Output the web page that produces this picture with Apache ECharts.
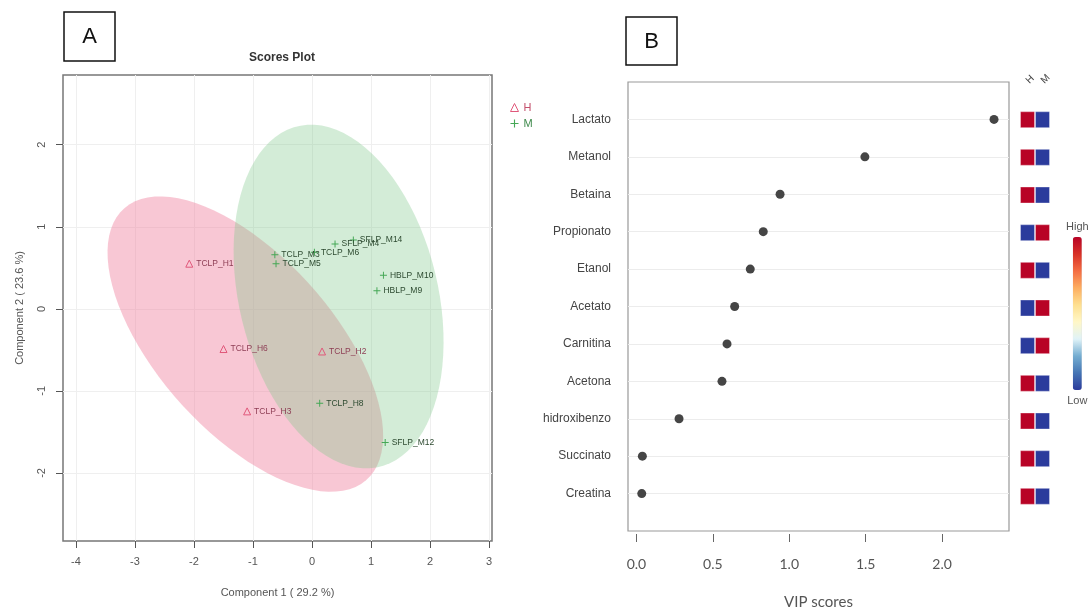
<!DOCTYPE html>
<html>
<head>
<meta charset="utf-8">
<script src="https://cdn.jsdelivr.net/npm/echarts@6/dist/echarts.min.js"></script>
<style>
  html, body { margin: 0; background: #fff; }
  #chart { width: 1088px; height: 615px; }
</style>
</head>
<body>
<div id="chart"></div>
<script>
// === A: Scores Plot (PLS-DA) ===
const H_NAMES = ['TCLP_H1', 'TCLP_H6', 'TCLP_H2', 'TCLP_H3'];
const H_X = [-2.08, -1.50, 0.17, -1.10];
const H_Y = [0.55, -0.49, -0.52, -1.25];

const M_NAMES = ['TCLP_M3', 'TCLP_M5', 'TCLP_M6', 'SFLP_M4', 'SFLP_M14', 'HBLP_M10', 'HBLP_M9', 'TCLP_H8', 'SFLP_M12'];
const M_X = [-0.63, -0.61, 0.04, 0.39, 0.70, 1.21, 1.10, 0.13, 1.24];
const M_Y = [0.66, 0.55, 0.69, 0.79, 0.84, 0.41, 0.22, -1.15, -1.63];

// zonas de confianza (centro, semiejes, angulo en unidades de datos)
const ELL_CX = [-1.13, 0.45];
const ELL_CY = [-0.43, 0.15];
const ELL_A = [2.68, 2.22];
const ELL_B = [1.23, 1.62];
const ELL_ANGLE = [-33.5, -61];

const X_TICKS_A = [-4, -3, -2, -1, 0, 1, 2, 3];
const Y_TICKS_A = [-2, -1, 0, 1, 2];

// === B: VIP scores ===
const METABOLITES = ['Lactato', 'Metanol', 'Betaina', 'Propionato', 'Etanol', 'Acetato',
  'Carnitina', 'Acetona', 'hidroxibenzo', 'Succinato', 'Creatina'];
const VIP = [2.34, 1.495, 0.94, 0.83, 0.745, 0.643, 0.593, 0.56, 0.279, 0.039, 0.035];
const GROUPS = ['H', 'M'];
const HIGH_H = [1, 1, 1, 0, 1, 0, 0, 1, 1, 1, 1];
const HIGH_M = [0, 0, 0, 1, 0, 1, 1, 0, 0, 0, 0];
const VIP_TICKS = [0, 0.5, 1, 1.5, 2];

// === Estilos ===
const pinkFill = 'rgba(240,130,160,0.45)', greenFill = 'rgba(130,200,140,0.35)';
const hCol = '#e0587a', mCol = '#45a856';
const PLUS = 'path://M0.43,0H0.57V0.43H1V0.57H0.57V1H0.43V0.57H0V0.43H0.43Z';
const sans = "'Liberation Sans', Arial, sans-serif";

const rows = METABOLITES.map((_, i) => i + 1);

function ellipseItem(params, api){
  const cx = api.value(0), cy = api.value(1), a = api.value(2), b = api.value(3);
  const th = api.value(4) * Math.PI / 180;
  const pts = [];
  for(let k = 0; k <= 90; k++){
    const t = 2 * Math.PI * k / 90;
    const dx = a * Math.cos(t) * Math.cos(th) - b * Math.sin(t) * Math.sin(th);
    const dy = a * Math.cos(t) * Math.sin(th) + b * Math.sin(t) * Math.cos(th);
    pts.push(api.coord([cx + dx, cy + dy]));
  }
  return { type:'polygon', shape:{ points: pts }, style:{ fill: api.value(5) === 0 ? pinkFill : greenFill } };
}

const option = {
  animation: false,
  textStyle: { fontFamily: sans },
  title: { text: 'Scores Plot', left: 277, textAlign: 'center', top: 47,
    textStyle: { fontSize: 12, fontWeight: 'bold', color: '#333' } },
  legend: {
    data: [
      { name:'H', icon: 'triangle', itemStyle:{ color: 'rgba(255,255,255,0)', borderColor: hCol, borderWidth: 1 },
        textStyle:{ color: '#c4506c' } },
      { name:'M', icon: PLUS, itemStyle:{ color: mCol }, textStyle:{ color: '#3f8a4c' } }
    ],
    orient: 'vertical', left: 505, top: 97, itemWidth: 8, itemHeight: 8, itemGap: 5,
    textStyle: { fontSize: 11 }
  },
  grid: [
    { left: 63, top: 75, width: 429, height: 466, show: true, borderColor: '#777', borderWidth: 1.5 },
    { left: 628, top: 82, width: 381, height: 452, show: true, borderColor: '#999', borderWidth: 1.2 },
    { left: 1020, top: 82, width: 30, height: 452 }
  ],
  xAxis: [
    { gridIndex: 0, type: 'value', min: -4.22, max: 3.05,
      axisLine: { show: false, onZero: false },
      axisTick: { customValues: X_TICKS_A, length: 7, lineStyle: { color: '#555' } },
      axisLabel: { customValues: X_TICKS_A, margin: 15, fontSize: 11, color: '#555' },
      splitLine: { lineStyle: { color: '#efefef' } },
      name: 'Component 1 ( 29.2 %)', nameLocation: 'middle', nameGap: 46,
      nameTextStyle: { fontSize: 11, color: '#555' } },
    { gridIndex: 1, type: 'value', min: -0.055, max: 2.438, offset: 3,
      axisLine: { show: false, onZero: false },
      axisTick: { customValues: VIP_TICKS, length: 8, lineStyle: { color: '#666' } },
      axisLabel: { customValues: VIP_TICKS, margin: 23, fontSize: 14, color: '#555', fontFamily: 'Lato',
        formatter: v => v.toFixed(1) },
      splitLine: { show: false },
      name: 'VIP scores', nameLocation: 'middle', nameGap: 61,
      nameTextStyle: { fontSize: 15, color: '#555', fontFamily: 'Lato' } },
    { gridIndex: 2, type: 'category', data: GROUPS, position: 'top',
      axisLine: { show: false }, axisTick: { show: false },
      axisLabel: { interval: 0, rotate: 45, margin: 0, fontSize: 10, color: '#444' } }
  ],
  yAxis: [
    { gridIndex: 0, type: 'value', min: -2.83, max: 2.85,
      axisLine: { show: false, onZero: false },
      axisTick: { customValues: Y_TICKS_A, length: 7, lineStyle: { color: '#555' } },
      axisLabel: { customValues: Y_TICKS_A, rotate: 90, margin: 16, fontSize: 11, color: '#555' },
      splitLine: { lineStyle: { color: '#efefef' } },
      name: 'Component 2 ( 23.6 %)', nameLocation: 'middle', nameGap: 38, nameRotate: 90,
      nameTextStyle: { fontSize: 11, color: '#555' } },
    { gridIndex: 1, type: 'value', min: 0, max: 12, inverse: true,
      axisLine: { show: false, onZero: false },
      axisTick: { show: false, customValues: rows },
      axisLabel: { customValues: rows, margin: 17, fontSize: 12, color: '#444',
        formatter: v => METABOLITES[v - 1] },
      splitLine: { lineStyle: { color: '#ececec' } } },
    { gridIndex: 2, type: 'value', min: 0, max: 12, inverse: true, show: false }
  ],
  visualMap: {
    type: 'continuous', seriesIndex: 4, dimension: 2, min: 0, max: 1, calculable: false,
    orient: 'vertical', left: 1051, top: 206, itemWidth: 9, itemHeight: 153,
    text: ['High', 'Low'], textGap: 5, textStyle: { fontSize: 11, color: '#555' },
    inRange: { color: ['#2b3b9c', '#4575b4', '#74add1', '#e0f3f8', '#fff7c8',
      '#fee090', '#fdae61', '#f46d43', '#d73027', '#b80326'] }
  },
  series: [
    { type: 'custom', name: 'ellipse', xAxisIndex: 0, yAxisIndex: 0, silent: true, z: 1,
      renderItem: ellipseItem, encode: { x: 0, y: 1 },
      data: ELL_CX.map((cx, i) => [cx, ELL_CY[i], ELL_A[i], ELL_B[i], ELL_ANGLE[i], i]) },
    { name: 'H', type: 'scatter', xAxisIndex: 0, yAxisIndex: 0, z: 3,
      symbol: 'triangle', symbolSize: 7,
      itemStyle: { color: 'rgba(255,255,255,0)', borderColor: hCol, borderWidth: 1, opacity: 1 },
      label: { show: true, position: 'right', distance: 3, fontSize: 8.5, color: '#8e3e55',
        formatter: p => p.data[2] },
      data: H_X.map((x, i) => [x, H_Y[i], H_NAMES[i]]) },
    { name: 'M', type: 'scatter', xAxisIndex: 0, yAxisIndex: 0, z: 3,
      symbol: PLUS, symbolSize: 7,
      itemStyle: { color: mCol, opacity: 1 },
      label: { show: true, position: 'right', distance: 3, fontSize: 8.5, color: '#2d4a30',
        formatter: p => p.data[2] },
      data: M_X.map((x, i) => [x, M_Y[i], M_NAMES[i]]) },
    { type: 'scatter', xAxisIndex: 1, yAxisIndex: 1, symbol: 'circle', symbolSize: 9,
      itemStyle: { color: '#454545', opacity: 1 },
      data: VIP.map((v, i) => [v, i + 1]) },
    { type: 'scatter', xAxisIndex: 2, yAxisIndex: 2, symbol: 'rect', symbolSize: [14, 16],
      itemStyle: { borderColor: 'rgba(255,255,255,0.35)', borderWidth: 1, opacity: 1 },
      data: METABOLITES.flatMap((m, i) => [['H', i + 1, HIGH_H[i]], ['M', i + 1, HIGH_M[i]]]) }
  ],
  graphic: [
    { type: 'rect', shape: { x: 64, y: 12, width: 51, height: 49 },
      style: { fill: '#fff', stroke: '#111', lineWidth: 1.5 } },
    { type: 'text', x: 89.5, y: 37, style: { text: 'A', fontSize: 22, fill: '#111',
      align: 'center', verticalAlign: 'middle', fontFamily: sans } },
    { type: 'rect', shape: { x: 626, y: 17, width: 51, height: 48 },
      style: { fill: '#fff', stroke: '#111', lineWidth: 1.5 } },
    { type: 'text', x: 651.5, y: 42, style: { text: 'B', fontSize: 22, fill: '#111',
      align: 'center', verticalAlign: 'middle', fontFamily: sans } }
  ]
};

echarts.init(document.getElementById('chart')).setOption(option);
</script>
</body>
</html>
